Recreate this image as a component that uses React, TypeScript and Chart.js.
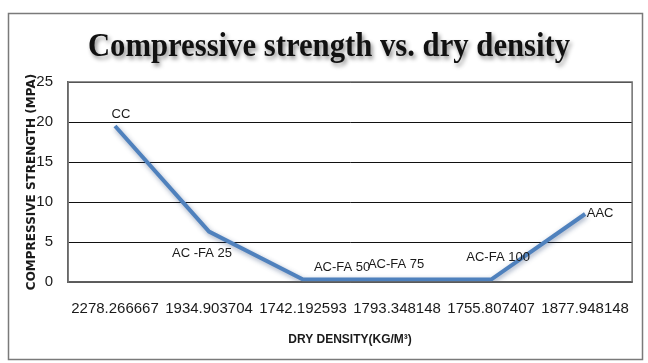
import React, { useEffect, useRef } from "react";
import { Chart, registerables } from "chart.js";

Chart.register(...registerables);

// Dry density of each mix (kg/m³), shown as category labels
const densityLabels = [
  "2278.266667",
  "1934.903704",
  "1742.192593",
  "1793.348148",
  "1755.807407",
  "1877.948148",
];
// Mix names written beside each point
const mixNames = ["CC", "AC -FA 25", "AC-FA 50", "AC-FA 75", "AC-FA 100", "AAC"];
// Compressive strength (MPa)
const strengthValues = [19.5, 6.3, 0.3, 0.3, 0.3, 8.5];
const yTicks = [0, 5, 10, 15, 20, 25];

const SANS = "'Liberation Sans', Arial, sans-serif";

// Offsets (px) of each mix name from its point
const nameOffsets: [number, number][] = [
  [6, -12],
  [-7, 22],
  [39, -12],
  [-1, -15],
  [7, -22],
  [15, -1],
];

const framePlugin = {
  id: "frame",
  beforeDraw(chart: any) {
    const { ctx, width, height } = chart;
    ctx.save();
    ctx.fillStyle = "#ffffff";
    ctx.fillRect(0, 0, width, height);
    ctx.strokeStyle = "#7a7a7a";
    ctx.lineWidth = 1.5;
    ctx.strokeRect(8.5, 13.5, 634, 346);
    // chart title with soft shadow, slightly condensed
    ctx.translate(329, 47);
    ctx.scale(0.93, 1);
    ctx.font = "bold 33px 'Liberation Serif', 'Times New Roman', serif";
    ctx.fillStyle = "#111111";
    ctx.textAlign = "center";
    ctx.textBaseline = "middle";
    ctx.shadowColor = "rgba(0,0,0,0.45)";
    ctx.shadowBlur = 4;
    ctx.shadowOffsetX = 2;
    ctx.shadowOffsetY = 3;
    ctx.fillText("Compressive strength vs. dry density", 0, 0);
    ctx.restore();
  },
  afterDraw(chart: any) {
    const { ctx, chartArea } = chart;
    ctx.save();
    ctx.strokeStyle = "#6e6e6e";
    ctx.lineWidth = 1.5;
    ctx.strokeRect(chartArea.left, chartArea.top, chartArea.right - chartArea.left, chartArea.bottom - chartArea.top);
    ctx.restore();
  },
};

const lineShadowPlugin = {
  id: "lineShadow",
  beforeDatasetDraw(chart: any) {
    const ctx = chart.ctx;
    ctx.save();
    ctx.shadowColor = "rgba(30,60,110,0.45)";
    ctx.shadowBlur = 5;
    ctx.shadowOffsetX = 1;
    ctx.shadowOffsetY = 2;
  },
  afterDatasetDraw(chart: any) {
    chart.ctx.restore();
  },
};

const pointNamesPlugin = {
  id: "pointNames",
  afterDatasetsDraw(chart: any) {
    const { ctx } = chart;
    const meta = chart.getDatasetMeta(0);
    ctx.save();
    ctx.font = `13px ${SANS}`;
    ctx.fillStyle = "#1a1a1a";
    ctx.textAlign = "center";
    ctx.textBaseline = "middle";
    meta.data.forEach((pt: any, i: number) => {
      const [dx, dy] = nameOffsets[i];
      ctx.fillText(mixNames[i], pt.x + dx, pt.y + dy);
    });
    ctx.restore();
  },
};

export default function App() {
  const canvasRef = useRef<HTMLCanvasElement | null>(null);

  useEffect(() => {
    document.body.style.margin = "0";
    const canvas = canvasRef.current;
    if (!canvas) return;
    const chart = new Chart(canvas, {
      type: "line",
      data: {
        labels: densityLabels,
        datasets: [
          {
            data: strengthValues,
            borderColor: "#4f81bd",
            borderWidth: 4,
            pointRadius: 0,
            tension: 0,
            fill: false,
          },
        ],
      },
      options: {
        responsive: false,
        animation: false,
        devicePixelRatio: 1,
        layout: { padding: { top: 82, left: 18, right: 13, bottom: 12 } },
        plugins: {
          legend: { display: false },
          tooltip: { enabled: false },
          title: { display: false },
        },
        scales: {
          x: {
            type: "category",
            offset: true,
            grid: { display: false, drawTicks: false },
            border: { display: true, color: "#333333", width: 1.5 },
            ticks: {
              color: "#1a1a1a",
              font: { family: SANS, size: 15 },
              padding: 18,
              maxRotation: 0,
              autoSkip: false,
            },
            title: {
              display: true,
              text: "DRY DENSITY(KG/M³)",
              color: "#1a1a1a",
              font: { family: SANS, size: 12, weight: "bold" },
              padding: { top: 0, bottom: 4 },
            },
            afterFit(scale: any) {
              scale.height = 69;
            },
          },
          y: {
            min: 0,
            max: 25,
            grid: { color: "#111111", lineWidth: 1, drawTicks: false },
            border: { display: true, color: "#555555", width: 1.5 },
            afterBuildTicks(scale: any) {
              scale.ticks = yTicks.map((v) => ({ value: v }));
            },
            ticks: {
              color: "#1a1a1a",
              font: { family: SANS, size: 15 },
              padding: 15,
            },
            title: {
              display: true,
              text: "COMPRESSIVE STRENGTH (MPA)",
              color: "#1a1a1a",
              font: { family: "'DejaVu Sans', sans-serif", size: 12, weight: "bold" },
              padding: { top: 7, bottom: 0 },
            },
            afterFit(scale: any) {
              scale.width = 50;
            },
          },
        },
      },
      plugins: [framePlugin, lineShadowPlugin, pointNamesPlugin],
    });
    return () => chart.destroy();
  }, []);

  return <canvas ref={canvasRef} width={648} height={363} style={{ display: "block" }} />;
}
